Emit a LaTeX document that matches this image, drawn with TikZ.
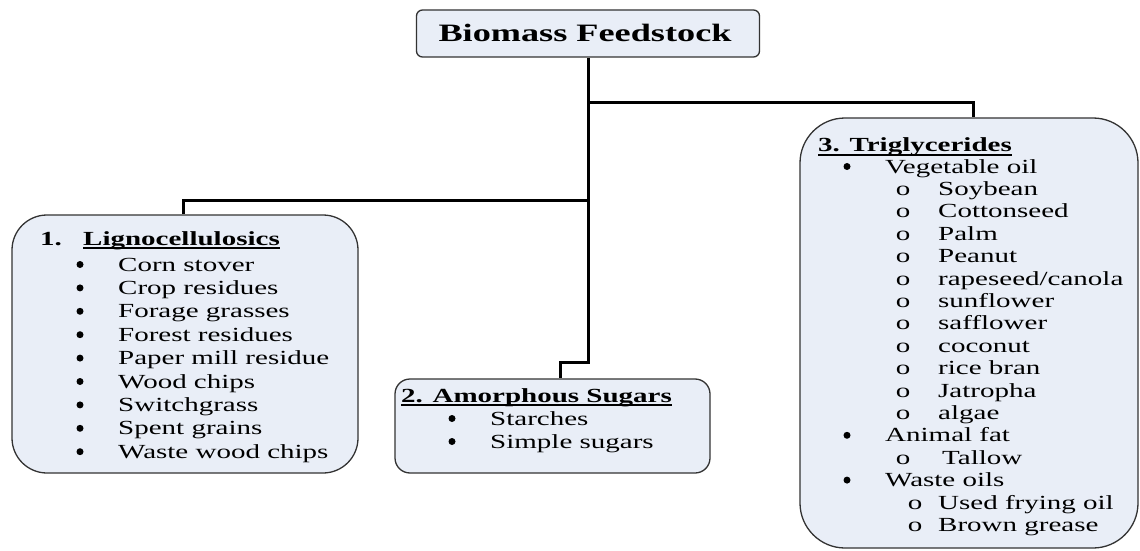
\documentclass[tikz,border=0pt]{standalone}
\usepackage{fontspec}
\setmainfont[FakeStretch=1.45]{Liberation Serif}
\definecolor{boxfill}{HTML}{E9EEF7}
\begin{document}
\begin{tikzpicture}[x=1pt,y=1pt,
  box/.style={draw=black!80, line width=1.3pt, fill=boxfill},
  conn/.style={draw=black, line width=3pt},
  txt/.style={anchor=base west, inner sep=0pt, font=\fontsize{20}{24}\selectfont},
  hd/.style={anchor=base west, inner sep=0pt, font=\fontsize{20}{24}\selectfont\bfseries},
  bul/.style={anchor=base, inner sep=0pt, font=\fontsize{20}{24}\selectfont},
  dot/.style={circle, fill=black, inner sep=0pt, minimum size=7pt, yshift=6.5},
  uline/.style={line width=1.2pt}]
\useasboundingbox (0,0) rectangle (1140,550);
% boxes
\node[box, rounded corners=6, minimum width=343, minimum height=47] (root) at (588,516.5) {};
\node[box, rounded corners=35, minimum width=346, minimum height=258] (lig) at (185,206) {};
\node[box, rounded corners=15, minimum width=315, minimum height=94] (amor) at (552.5,124) {};
\node[box, rounded corners=45, minimum width=338, minimum height=430] (trig) at (969,217) {};
% connectors
\coordinate (j1) at (588,447);
\coordinate (j2) at (588,350);
\coordinate (j3) at (588,188);
\draw[conn] (root.south) -- (j1) -| ([xshift=4]trig.north);
\draw[conn] (j1) -- (j2) -| ([xshift=-2]lig.north);
\draw[conn] (j2) -- (j3) -| ([xshift=7.5]amor.north);
% root text
\node[anchor=base, inner sep=0pt, font=\fontsize{25}{30}\selectfont\bfseries] (roottxt) at (585,508) {Biomass Feedstock};
% Lignocellulosics
\node[hd] (h1n) at (40,305) {1.};
\node[hd] (h1) at (83,305) {Lignocellulosics};
\draw[uline] ([yshift=-3]h1.base west) -- ([yshift=-3]h1.base east);
\foreach \t [count=\i from 0] in {Corn stover, Crop residues, Forage grasses, Forest residues, Paper mill residue, Wood chips, Switchgrass, Spent grains, Waste wood chips} {
  \node[dot] (lb\i) at (80,279-23.4*\i) {};
  \node[txt] (lt\i) at (118,279-23.4*\i) {\t};
}
% Amorphous sugars
\node[hd] (h2) at (401,148) {2. Amorphous Sugars};
\draw[uline] ([yshift=-3]h2.base west) -- ([yshift=-3]h2.base east);
\node[dot] (ab1) at (452,125) {};
\node[txt] (at1) at (490,125) {Starches};
\node[dot] (ab2) at (452,102) {};
\node[txt] (at2) at (490,102) {Simple sugars};
% Triglycerides
\node[hd] (h3) at (818,398) {3. Triglycerides};
\draw[uline] ([yshift=-3]h3.base west) -- ([yshift=-3]h3.base east);
\node[dot] (tb0) at (847,377) {};
\node[txt] (tt0) at (885,377) {Vegetable oil};
\foreach \t [count=\i from 1] in {Soybean, Cottonseed, Palm, Peanut, {rapeseed/canola}, sunflower, safflower, coconut, rice bran, Jatropha, algae} {
  \node[bul] (tc\i) at (903,377-22.4*\i) {o};
  \node[txt] (tt\i) at (938,377-22.4*\i) {\t};
}
\node[dot] (tb12) at (847,377-22.4*12) {};
\node[txt] (tt12) at (885,377-22.4*12) {Animal fat};
\node[bul] (tc13) at (903,377-22.4*13) {o};
\node[txt] (tt13) at (942,377-22.4*13) {Tallow};
\node[dot] (tb14) at (847,377-22.4*14) {};
\node[txt] (tt14) at (885,377-22.4*14) {Waste oils};
\node[bul] (tc15) at (915,377-22.4*15) {o};
\node[txt] (tt15) at (938,377-22.4*15) {Used frying oil};
\node[bul] (tc16) at (915,377-22.4*16) {o};
\node[txt] (tt16) at (938,377-22.4*16) {Brown grease};
\end{tikzpicture}
\end{document}
